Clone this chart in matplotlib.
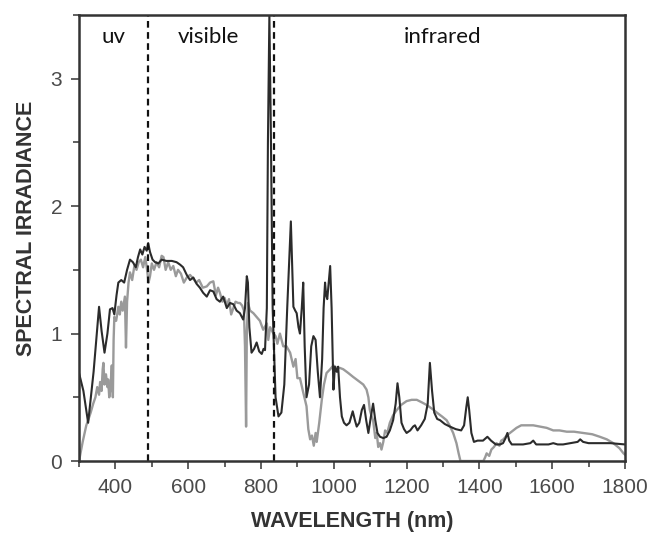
import matplotlib
matplotlib.use("Agg")
import matplotlib.pyplot as plt
from matplotlib.ticker import MultipleLocator

# lampa (czarna linia): długość fali [nm] i natężenie
lamp_nm = [300, 312, 325, 340, 355, 362, 370, 378, 385, 392,
           397, 403, 408, 416, 424, 432, 440, 448, 456, 462,
           468, 474, 480, 486, 490, 495, 502, 509, 518, 527,
           540, 555, 568, 578, 586, 596, 605, 614, 623, 632,
           641, 651, 660, 669, 678, 687, 696, 706, 715, 724,
           733, 742, 751, 756, 761, 764, 768, 774, 781, 788,
           795, 802, 807, 811, 816, 819, 823, 827, 832, 840,
           848, 856, 864, 872, 878, 882, 886, 889, 894, 898,
           903, 907, 912, 916, 920, 925, 932, 938, 944, 950,
           956, 962, 968, 972, 976, 979, 982, 986, 990, 994,
           999, 1003, 1008, 1012, 1017, 1022, 1028, 1035, 1043, 1052,
           1058, 1063, 1070, 1077, 1083, 1089, 1095, 1102, 1108, 1114,
           1120, 1127, 1136, 1145, 1154, 1163, 1170, 1175, 1180, 1186,
           1193, 1200, 1210, 1218, 1223, 1230, 1240, 1250, 1258, 1264,
           1270, 1276, 1284, 1292, 1305, 1319, 1335, 1350, 1358, 1364,
           1368, 1372, 1378, 1385, 1395, 1410, 1422, 1432, 1445, 1457,
           1465, 1472, 1477, 1482, 1489, 1500, 1520, 1540, 1548, 1556,
           1575, 1590, 1603, 1615, 1630, 1650, 1670, 1677, 1685, 1700,
           1730, 1760, 1800]
lamp_irr = [0.69, 0.55, 0.30, 0.70, 1.21, 1.02, 0.85, 1.00, 1.19, 1.20,
            1.15, 1.30, 1.40, 1.42, 1.40, 1.50, 1.58, 1.56, 1.52, 1.60,
            1.66, 1.62, 1.68, 1.65, 1.71, 1.64, 1.58, 1.56, 1.55, 1.58,
            1.57, 1.57, 1.56, 1.54, 1.52, 1.46, 1.42, 1.44, 1.39, 1.36,
            1.32, 1.29, 1.34, 1.33, 1.27, 1.25, 1.29, 1.20, 1.24, 1.23,
            1.18, 1.16, 1.11, 1.20, 1.45, 1.40, 1.05, 0.85, 0.88, 0.93,
            0.86, 0.84, 0.88, 0.87, 1.20, 2.50, 3.50, 2.60, 1.20, 0.50,
            0.35, 0.38, 0.60, 1.20, 1.60, 1.88, 1.50, 1.21, 1.18, 1.16,
            1.05, 1.00, 1.20, 1.40, 0.90, 0.50, 0.60, 0.90, 0.98, 0.95,
            0.70, 0.50, 0.80, 1.20, 1.40, 1.30, 1.27, 1.40, 1.53, 1.20,
            0.56, 0.74, 0.70, 0.74, 0.50, 0.35, 0.30, 0.28, 0.30, 0.39,
            0.32, 0.27, 0.30, 0.40, 0.44, 0.32, 0.22, 0.35, 0.45, 0.32,
            0.22, 0.19, 0.18, 0.19, 0.24, 0.32, 0.45, 0.61, 0.50, 0.30,
            0.25, 0.22, 0.24, 0.27, 0.28, 0.24, 0.28, 0.33, 0.45, 0.77,
            0.55, 0.38, 0.33, 0.32, 0.29, 0.27, 0.25, 0.24, 0.28, 0.42,
            0.50, 0.40, 0.22, 0.15, 0.16, 0.16, 0.19, 0.16, 0.13, 0.13,
            0.14, 0.18, 0.22, 0.16, 0.13, 0.13, 0.13, 0.14, 0.16, 0.13,
            0.13, 0.13, 0.14, 0.13, 0.13, 0.14, 0.15, 0.17, 0.15, 0.14,
            0.14, 0.14, 0.13]

# słońce (szara linia)
sun_nm = [300, 310, 320, 325, 332, 339, 345, 350, 355, 358,
          362, 365, 367, 370, 374, 378, 380, 383, 386, 390,
          393, 395, 397, 402, 408, 412, 416, 420, 426, 429,
          432, 436, 440, 446, 452, 458, 464, 470, 476, 482,
          487, 491, 495, 500, 506, 513, 520, 527, 532, 538,
          545, 552, 559, 566, 572, 580, 588, 596, 605, 614,
          622, 630, 640, 651, 660, 669, 676, 682, 687, 694,
          700, 706, 712, 718, 724, 730, 737, 742, 748, 753,
          756, 759, 761, 764, 770, 779, 788, 797, 806, 816,
          820, 825, 834, 840, 845, 852, 861, 870, 880, 889,
          895, 900, 907, 915, 925, 930, 935, 940, 945, 950,
          953, 960, 967, 973, 980, 990, 999, 1008, 1017, 1026,
          1040, 1053, 1067, 1081, 1090, 1095, 1099, 1104, 1108, 1114,
          1118, 1122, 1127, 1131, 1136, 1141, 1147, 1154, 1163, 1173,
          1185, 1200, 1214, 1228, 1242, 1255, 1270, 1283, 1297, 1310,
          1318, 1328, 1337, 1343, 1348, 1380, 1411, 1416, 1420, 1427,
          1433, 1440, 1447, 1455, 1460, 1466, 1475, 1484, 1493, 1502,
          1515, 1530, 1548, 1566, 1585, 1603, 1620, 1640, 1660, 1685,
          1710, 1731, 1750, 1768, 1785, 1796, 1800]
sun_irr = [0.00, 0.15, 0.28, 0.32, 0.38, 0.45, 0.50, 0.58, 0.52, 0.62,
           0.55, 0.72, 0.77, 0.60, 0.68, 0.58, 0.64, 0.50, 0.56, 0.75,
           0.50, 0.95, 1.13, 1.10, 1.21, 1.15, 1.25, 1.18, 1.29, 0.89,
           1.25, 1.40, 1.48, 1.42, 1.53, 1.50, 1.56, 1.58, 1.52, 1.60,
           1.50, 1.40, 1.45, 1.55, 1.50, 1.56, 1.52, 1.61, 1.60, 1.50,
           1.56, 1.50, 1.53, 1.45, 1.50, 1.47, 1.40, 1.44, 1.46, 1.43,
           1.40, 1.42, 1.36, 1.37, 1.40, 1.41, 1.30, 1.36, 1.32, 1.25,
           1.28, 1.22, 1.27, 1.15, 1.20, 1.25, 1.24, 1.24, 1.22, 1.18,
           0.90, 0.27, 1.00, 1.24, 1.18, 1.16, 1.13, 1.10, 1.03, 1.08,
           0.95, 1.05, 1.00, 0.98, 0.92, 1.00, 0.90, 0.90, 0.85, 0.74,
           0.80, 0.65, 0.65, 0.55, 0.43, 0.25, 0.17, 0.20, 0.12, 0.22,
           0.15, 0.30, 0.48, 0.60, 0.69, 0.72, 0.75, 0.73, 0.73, 0.72,
           0.69, 0.66, 0.63, 0.60, 0.56, 0.50, 0.40, 0.35, 0.32, 0.18,
           0.22, 0.11, 0.14, 0.09, 0.15, 0.24, 0.22, 0.30, 0.36, 0.40,
           0.44, 0.47, 0.48, 0.48, 0.46, 0.44, 0.41, 0.38, 0.35, 0.32,
           0.28, 0.22, 0.14, 0.06, 0.00, 0.00, 0.00, 0.03, 0.06, 0.04,
           0.09, 0.11, 0.14, 0.12, 0.16, 0.17, 0.20, 0.22, 0.24, 0.26,
           0.28, 0.28, 0.28, 0.27, 0.26, 0.24, 0.24, 0.23, 0.23, 0.22,
           0.21, 0.19, 0.17, 0.14, 0.10, 0.06, 0.05]

# granice zakresów i podpisy
bounds = [490, 835]
region_labels = ["uv", "visible", "infrared"]
region_x = [396, 656, 1300]

fig = plt.figure(figsize=(6.51, 5.34), dpi=100)
ax = fig.add_axes([0.1214, 0.1367, 0.8386, 0.8353])

ax.plot(sun_nm, sun_irr, color="#9a9a9a", lw=1.7)
ax.plot(lamp_nm, lamp_irr, color="#2b2b2b", lw=1.5)

for b in bounds:
    ax.axvline(b, color="#111111", lw=1.6, ls=(0, (3, 2)))

for lab, xx in zip(region_labels, region_x):
    ax.text(xx, 3.276, lab, ha="center", va="baseline", fontsize=16,
            family="Lato", color="#111111")

ax.set_xlim(300, 1800)
ax.set_ylim(0, 3.5)
ax.xaxis.set_major_locator(MultipleLocator(200))
ax.xaxis.set_minor_locator(MultipleLocator(100))
ax.yaxis.set_major_locator(MultipleLocator(1))
ax.yaxis.set_minor_locator(MultipleLocator(0.5))
ax.set_xticks([400, 600, 800, 1000, 1200, 1400, 1600, 1800])
ax.tick_params(which="both", direction="out", color="#444444", width=1.2)
ax.tick_params(which="major", length=6, pad=6, labelsize=15,
               labelcolor="#4a4a4a")
ax.tick_params(which="minor", length=4)
for lab in ax.get_xticklabels() + ax.get_yticklabels():
    lab.set_family("Liberation Sans")
for s in ax.spines.values():
    s.set_linewidth(1.8)
    s.set_color("#333333")

ax.set_xlabel("WAVELENGTH (nm)", fontsize=15.5, fontweight="bold",
              family="Liberation Sans", color="#333333", labelpad=10)
ax.set_ylabel("SPECTRAL IRRADIANCE", fontsize=15.5, fontweight="bold",
              family="Liberation Sans", color="#333333")
ax.yaxis.set_label_coords(-0.077, 0.522)

fig.savefig("out.png", dpi=100)
